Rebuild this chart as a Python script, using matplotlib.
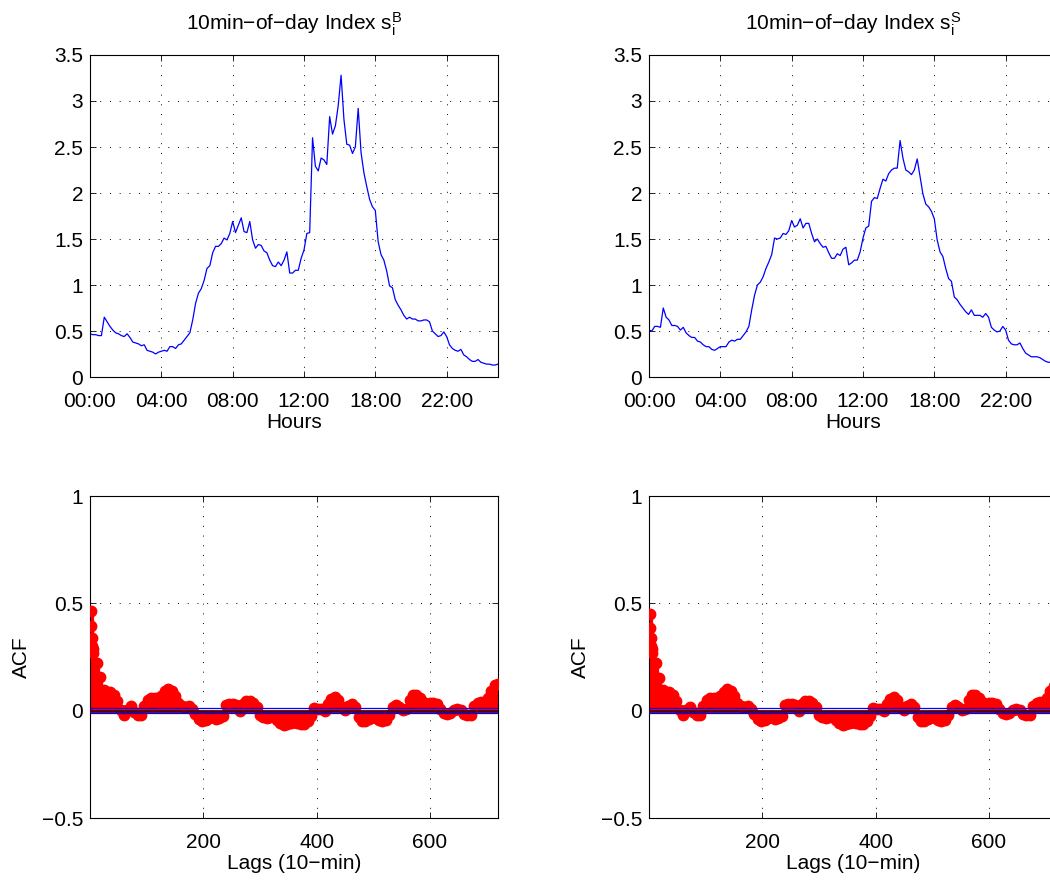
import numpy as np
import matplotlib.pyplot as plt

# intraday seasonal index, one value per 10-min slot (144 slots)
seasonal_b = [
    0.47, 0.46, 0.46, 0.45, 0.45, 0.65, 0.60, 0.55, 0.51, 0.48,
    0.47, 0.45, 0.44, 0.47, 0.43, 0.38, 0.37, 0.36, 0.34, 0.35,
    0.29, 0.28, 0.27, 0.25, 0.27, 0.28, 0.29, 0.28, 0.33, 0.33,
    0.31, 0.35, 0.36, 0.40, 0.44, 0.48, 0.62, 0.80, 0.91, 0.96,
    1.05, 1.18, 1.21, 1.35, 1.42, 1.42, 1.45, 1.51, 1.49, 1.56,
    1.69, 1.57, 1.65, 1.73, 1.58, 1.57, 1.69, 1.49, 1.40, 1.44,
    1.43, 1.37, 1.35, 1.27, 1.21, 1.20, 1.25, 1.21, 1.27, 1.36,
    1.13, 1.13, 1.16, 1.16, 1.29, 1.38, 1.56, 1.57, 2.60, 2.29,
    2.24, 2.38, 2.36, 2.31, 2.83, 2.64, 2.73, 2.95, 3.28, 2.80,
    2.53, 2.52, 2.43, 2.50, 2.92, 2.44, 2.22, 2.07, 1.93, 1.85,
    1.81, 1.47, 1.33, 1.27, 1.15, 0.99, 0.97, 0.84, 0.78, 0.73,
    0.67, 0.63, 0.65, 0.63, 0.63, 0.61, 0.61, 0.62, 0.62, 0.60,
    0.50, 0.47, 0.44, 0.45, 0.49, 0.44, 0.35, 0.31, 0.29, 0.28,
    0.30, 0.24, 0.22, 0.19, 0.17, 0.17, 0.19, 0.16, 0.15, 0.14,
    0.14, 0.13, 0.13, 0.14,
]
seasonal_s = [
    0.51, 0.50, 0.55, 0.55, 0.54, 0.75, 0.65, 0.62, 0.56, 0.56,
    0.55, 0.51, 0.54, 0.48, 0.45, 0.43, 0.43, 0.39, 0.38, 0.35,
    0.33, 0.33, 0.30, 0.29, 0.31, 0.33, 0.33, 0.33, 0.38, 0.40,
    0.39, 0.41, 0.41, 0.45, 0.49, 0.55, 0.73, 0.89, 1.00, 1.03,
    1.09, 1.18, 1.25, 1.33, 1.51, 1.50, 1.51, 1.56, 1.55, 1.59,
    1.70, 1.63, 1.65, 1.72, 1.62, 1.67, 1.67, 1.56, 1.47, 1.50,
    1.45, 1.41, 1.42, 1.35, 1.29, 1.29, 1.34, 1.32, 1.39, 1.41,
    1.22, 1.24, 1.27, 1.27, 1.36, 1.51, 1.62, 1.64, 1.91, 1.95,
    1.94, 2.05, 2.15, 2.13, 2.21, 2.25, 2.27, 2.27, 2.57, 2.38,
    2.25, 2.23, 2.20, 2.25, 2.37, 2.18, 1.99, 1.88, 1.85, 1.80,
    1.72, 1.49, 1.36, 1.31, 1.18, 1.07, 1.04, 0.87, 0.84, 0.79,
    0.75, 0.71, 0.68, 0.73, 0.67, 0.67, 0.67, 0.65, 0.69, 0.65,
    0.54, 0.51, 0.49, 0.50, 0.55, 0.51, 0.40, 0.36, 0.35, 0.35,
    0.37, 0.31, 0.26, 0.24, 0.22, 0.22, 0.22, 0.21, 0.19, 0.17,
    0.16, 0.16, 0.15, 0.15,
]
hour_ticks = [0, 25, 50, 75, 100, 125]
hour_labels = ["00:00", "04:00", "08:00", "12:00", "18:00", "22:00"]

# ACF lags (first few single lags, then every 6th)
lags = [0, 1, 2, 3, 4, 5] + list(range(6, 721, 6))
acf_b = [
    0.61, 0.466, 0.394, 0.339, 0.300, 0.286,
    0.27, 0.22, 0.155, 0.095, 0.088, 0.088, 0.075, 0.045, 0.005, -0.022,
    0.005, 0.02, -0.008, -0.018, -0.02, 0.02, 0.05, 0.06, 0.06, 0.052,
    0.068, 0.09, 0.10, 0.09, 0.07, 0.036, 0.02, 0.015, 0.024, 0.008,
    -0.015, -0.04, -0.05, -0.042, -0.035, -0.024, -0.037, -0.033, -0.025, 0.025,
    0.03, 0.03, 0.025, 0.0, 0.03, 0.044, 0.047, 0.035, 0.018, -0.02,
    -0.03, -0.033, -0.028, -0.025, -0.045, -0.058, -0.066, -0.062, -0.057, -0.055,
    -0.058, -0.06, -0.062, -0.05, -0.025, 0.012, 0.01, 0.008, 0.0, 0.03,
    0.055, 0.063, 0.052, 0.015, 0.005, 0.022, 0.029, 0.015, -0.03, -0.05,
    -0.05, -0.04, -0.03, -0.036, -0.042, -0.046, -0.045, -0.02, 0.016, 0.026,
    0.015, 0.003, 0.01, 0.048, 0.072, 0.072, 0.06, 0.042, 0.029, 0.034,
    0.036, 0.032, 0.01, -0.012, -0.015, -0.012, 0.003, 0.006, 0.002, -0.015,
    -0.022, -0.018, 0.02, 0.038, 0.04, 0.036, 0.06, 0.092, 0.118, 0.122,
]
acf_s = [
    0.585, 0.45, 0.387, 0.34, 0.30, 0.285,
    0.27, 0.22, 0.15, 0.095, 0.088, 0.086, 0.075, 0.045, 0.005, -0.022,
    0.003, 0.018, -0.008, -0.018, -0.02, 0.02, 0.048, 0.058, 0.06, 0.052,
    0.068, 0.088, 0.10, 0.09, 0.07, 0.036, 0.02, 0.015, 0.024, 0.008,
    -0.015, -0.04, -0.05, -0.042, -0.035, -0.024, -0.037, -0.033, -0.025, 0.025,
    0.03, 0.03, 0.025, 0.0, 0.03, 0.044, 0.047, 0.035, 0.018, -0.02,
    -0.03, -0.033, -0.028, -0.025, -0.045, -0.058, -0.066, -0.062, -0.057, -0.055,
    -0.058, -0.06, -0.062, -0.05, -0.025, 0.012, 0.01, 0.008, 0.0, 0.03,
    0.055, 0.063, 0.052, 0.015, 0.005, 0.022, 0.029, 0.015, -0.03, -0.05,
    -0.05, -0.04, -0.03, -0.036, -0.042, -0.046, -0.045, -0.02, 0.016, 0.026,
    0.015, 0.003, 0.01, 0.048, 0.072, 0.072, 0.06, 0.042, 0.029, 0.034,
    0.036, 0.032, 0.01, -0.012, -0.015, -0.012, 0.003, 0.006, 0.002, -0.015,
    -0.022, -0.018, 0.02, 0.038, 0.04, 0.036, 0.06, 0.09, 0.115, 0.12,
]
conf_bound = 0.011

plt.rcParams["font.family"] = ["Liberation Sans", "DejaVu Sans"]
plt.rcParams["font.size"] = 15
GRID = dict(linestyle=(0, (1, 9)), linewidth=0.7, color="k")


def style_axes(ax):
    ax.tick_params(direction="in", top=True, right=True, length=4, width=0.6,
                   labelsize=15, pad=5)
    # x labels sit a bit lower in the reference
    ax.tick_params(axis="x", pad=11)
    for sp in ax.spines.values():
        sp.set_linewidth(0.8)
    ax.grid(True, **GRID)


def seasonal_panel(ax, values, tag):
    ax.plot(range(len(values)), values, color="b", lw=0.9)
    ax.set_xlim(0, len(values) - 1)
    ax.set_ylim(0, 3.5)
    ax.set_xticks(hour_ticks)
    ax.set_xticklabels(hour_labels)
    ax.set_yticks(np.arange(0, 3.51, 0.5))
    ax.set_yticklabels(["0", "0.5", "1", "1.5", "2", "2.5", "3", "3.5"])
    ax.set_xlabel("Hours", labelpad=1)
    ax.set_title("10min\u2212of\u2212day Index $\\mathregular{s_i^%s}$" % tag,
                 fontsize=15, pad=18)
    style_axes(ax)


def acf_panel(ax, values):
    ax.vlines(lags[:1], 0, values[:1], colors="r", lw=1.1, zorder=2)
    ax.vlines(lags[1:], 0, values[1:], colors="r", lw=3.8, zorder=2)
    ax.plot(lags[1:], values[1:], "o", color="r", ms=7.5, zorder=3)
    ax.axhline(0, color="#5a0000", lw=2.0, zorder=4)
    ax.axhline(conf_bound, color="b", lw=0.9, zorder=5)
    ax.axhline(-conf_bound, color="b", lw=0.9, zorder=5)
    ax.set_xlim(0, 720)
    ax.set_ylim(-0.5, 1)
    ax.set_xticks([200, 400, 600])
    ax.set_yticks([-0.5, 0, 0.5, 1])
    ax.set_yticklabels(["\u22120.5", "0", "0.5", "1"])
    ax.set_xlabel("Lags (10\u2212min)", labelpad=1)
    ax.set_ylabel("ACF", labelpad=8)
    style_axes(ax)


fig = plt.figure(figsize=(10.5, 8.8), dpi=100)
w, h = 408 / 1050, 322 / 880
ax_tl = fig.add_axes([90 / 1050, 1 - 377 / 880, w, h])
ax_tr = fig.add_axes([649 / 1050, 1 - 377 / 880, w, h])
ax_bl = fig.add_axes([90 / 1050, 1 - 818 / 880, w, h])
ax_br = fig.add_axes([649 / 1050, 1 - 818 / 880, w, h])

seasonal_panel(ax_tl, seasonal_b, "B")
seasonal_panel(ax_tr, seasonal_s, "S")
acf_panel(ax_bl, acf_b)
acf_panel(ax_br, acf_s)

fig.savefig("out.png", dpi=100)
